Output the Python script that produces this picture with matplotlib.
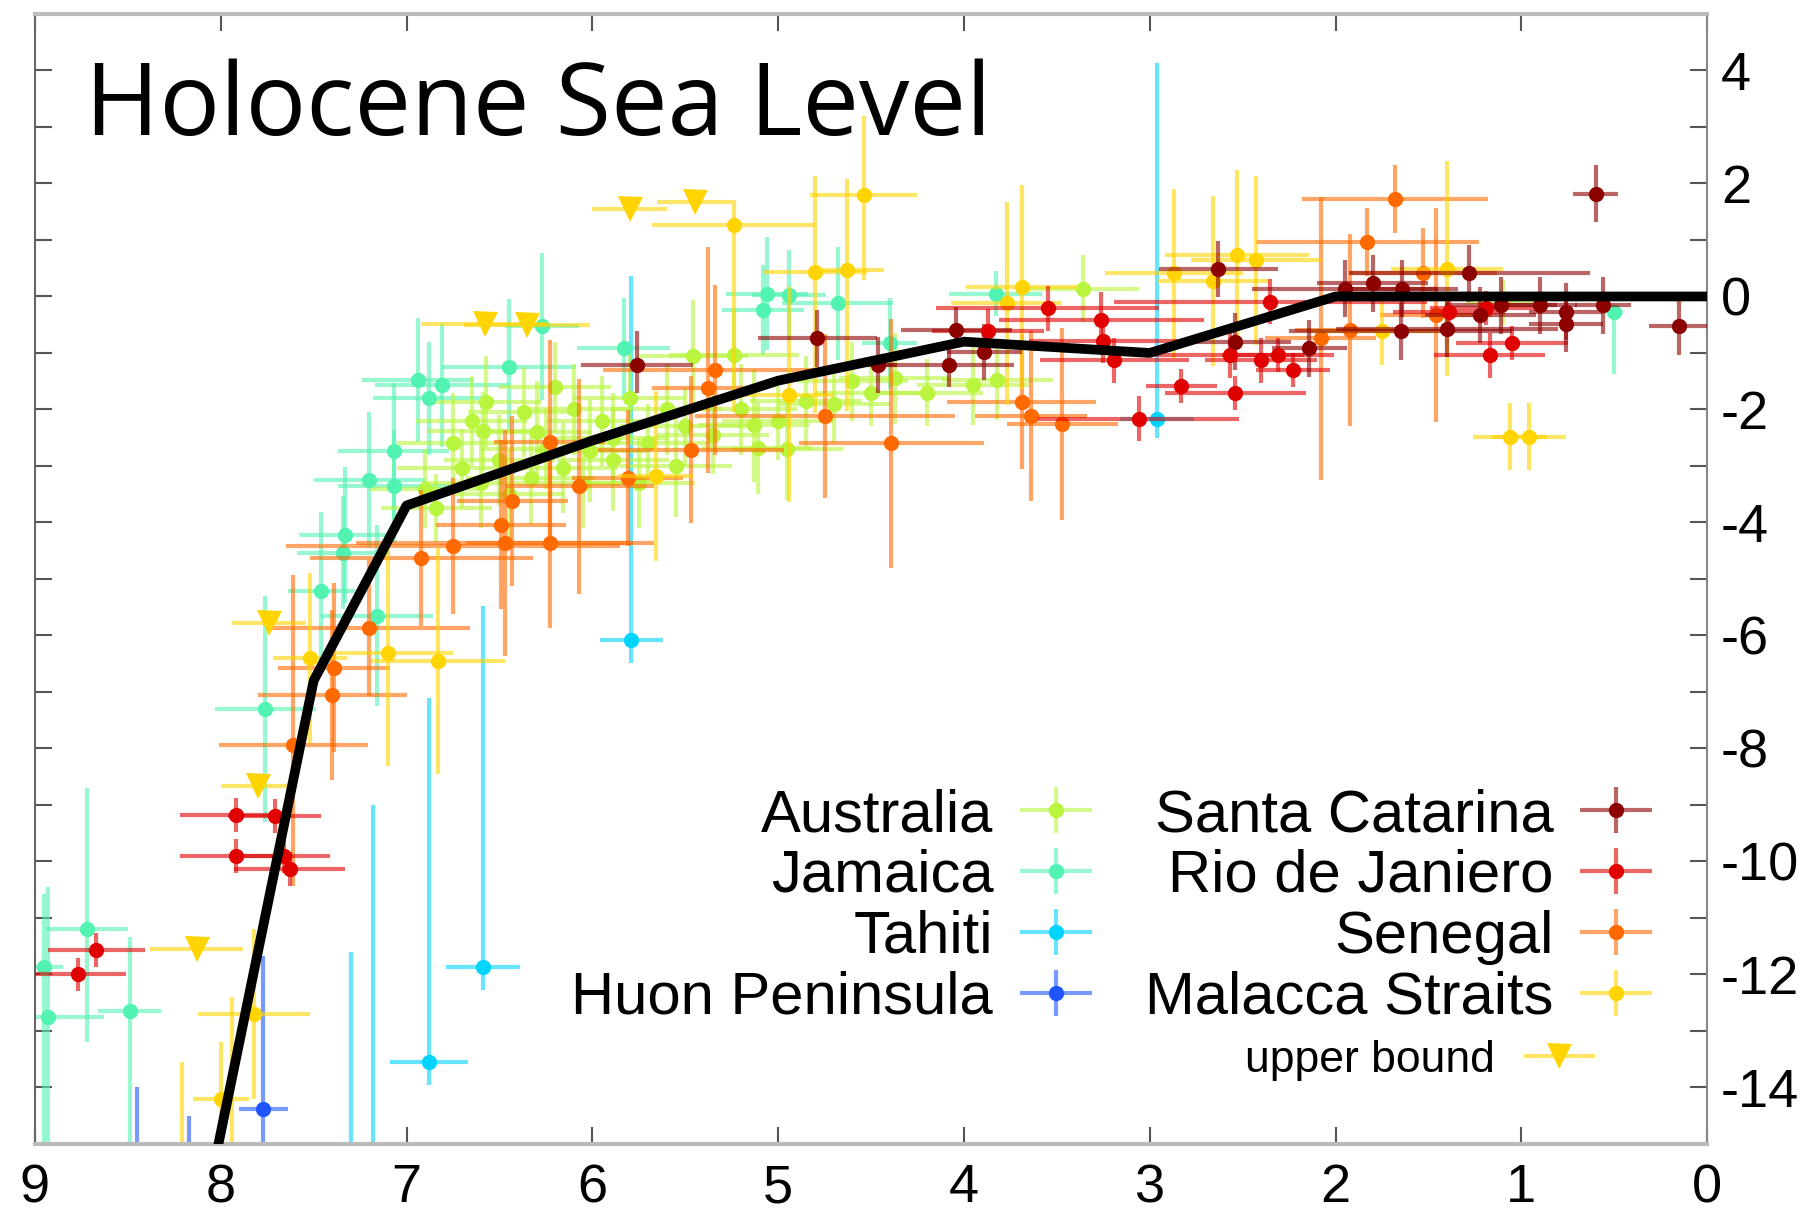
import numpy as np
import matplotlib
matplotlib.use('Agg')
from matplotlib import pyplot as plt
from matplotlib.colors import to_rgba
from matplotlib.container import ErrorbarContainer
from matplotlib.legend_handler import HandlerErrorbar
from matplotlib.ticker import MultipleLocator

plt.rcParams['font.family'] = ['Liberation Sans', 'DejaVu Sans']
plt.rcParams['axes.unicode_minus'] = False

##### sea-level indicators: (age ka, level m, age err, err below, err above)

australia = [
    (6.57, -1.86, 0.30, 0.8, 0.8), (6.37, -2.04, 0.30, 0.8, 0.8), (6.59, -2.39, 0.30, 0.7, 0.7),
    (6.70, -3.04, 0.35, 0.7, 0.7), (6.16, -3.04, 0.30, 0.8, 0.8), (6.01, -2.74, 0.30, 0.9, 0.9),
    (6.84, -3.75, 0.30, 0.6, 0.6), (6.33, -3.22, 0.35, 0.8, 0.8), (5.89, -2.51, 0.30, 0.8, 0.8),
    (5.89, -2.89, 0.30, 0.9, 0.9), (5.46, -1.06, 0.30, 1.0, 1.0), (5.24, -1.04, 0.35, 0.8, 0.8),
    (5.11, -2.69, 0.30, 0.8, 0.8), (5.13, -2.28, 0.30, 1.0, 1.0), (4.37, -1.45, 0.30, 0.8, 0.8),
    (3.95, -1.57, 0.30, 0.7, 0.7), (3.82, -1.48, 0.30, 0.7, 0.7), (3.36, 0.14, 0.30, 0.6, 0.6),
    (6.75, -2.60, 0.30, 0.9, 0.9), (6.50, -2.90, 0.30, 0.8, 0.8), (6.25, -2.70, 0.35, 0.7, 0.7),
    (6.05, -3.30, 0.30, 0.8, 0.8), (5.95, -2.20, 0.30, 0.8, 0.8), (5.70, -2.60, 0.35, 0.7, 0.7),
    (5.60, -2.00, 0.30, 0.8, 0.8), (5.35, -2.45, 0.30, 0.7, 0.7), (5.00, -2.20, 0.30, 0.7, 0.7),
    (4.85, -1.85, 0.30, 0.8, 0.8), (4.60, -1.50, 0.30, 0.7, 0.7), (4.50, -1.70, 0.30, 0.6, 0.6),
    (6.90, -3.40, 0.30, 0.7, 0.7), (6.45, -3.50, 0.30, 0.8, 0.8), (5.80, -1.80, 0.30, 0.8, 0.8),
    (5.55, -3.00, 0.30, 0.9, 0.9), (4.20, -1.70, 0.30, 0.6, 0.6), (1.10, -0.10, 0.20, 0.4, 0.4),
    (6.65, -2.20, 0.30, 0.8, 0.8), (6.30, -2.40, 0.30, 0.9, 0.9), (6.10, -2.00, 0.30, 0.8, 0.8),
    (5.75, -3.30, 0.30, 0.8, 0.8), (5.50, -2.30, 0.35, 0.7, 0.7), (5.20, -2.00, 0.30, 0.8, 0.8),
    (6.20, -1.60, 0.30, 0.8, 0.8), (4.95, -2.70, 0.30, 0.9, 0.9), (4.70, -1.90, 0.30, 0.7, 0.7),
    (6.60, -3.30, 0.30, 0.8, 0.8),
]

jamaica = [
    (6.27, -0.53, 0.20, 1.3, 1.3), (6.45, -1.24, 0.36, 1.2, 1.2), (6.94, -1.48, 0.30, 1.1, 1.1),
    (6.81, -1.57, 0.36, 1.1, 1.1), (6.88, -1.80, 0.30, 1.0, 1.0), (7.07, -2.74, 0.30, 1.2, 1.2),
    (7.20, -3.25, 0.30, 1.2, 1.2), (7.07, -3.36, 0.30, 1.0, 1.0), (7.33, -4.22, 0.25, 1.2, 1.2),
    (7.34, -4.54, 0.25, 1.0, 1.0), (7.46, -5.21, 0.18, 1.4, 1.4), (7.16, -5.65, 0.30, 1.6, 1.6),
    (7.76, -7.31, 0.27, 2.0, 2.0), (5.83, -0.92, 0.25, 0.9, 0.9), (5.06, 0.05, 0.22, 1.0, 1.0),
    (4.94, 0.03, 0.20, 0.8, 0.8), (5.08, -0.24, 0.22, 0.8, 0.8), (4.68, -0.12, 0.30, 1.0, 1.0),
    (4.40, -0.83, 0.15, 0.8, 0.8), (3.83, 0.05, 0.25, 0.4, 0.4), (0.50, -0.27, 0.05, 1.1, 0.1),
    (8.72, -11.20, 0.22, 2.0, 2.5), (8.95, -11.87, 0.10, 3.2, 1.3), (8.49, -12.64, 0.17, 2.4, 1.3),
    (8.93, -12.76, 0.30, 2.3, 2.3),
]

tahiti = [
    (5.79, -6.08, 0.17, 0.4, 6.45), (2.96, -2.16, 0.20, 0.35, 6.3), (6.59, -11.87, 0.20, 0.4, 6.4),
    (6.88, -13.55, 0.21, 0.4, 6.45), (7.30, -17.90, 0.20, 0.4, 6.3), (7.18, -15.40, 0.20, 0.4, 6.4),
]

huon = [
    (7.77, -14.38, 0.13, 0.6, 2.7), (8.45, -16.50, 0.10, 0.4, 2.5), (8.17, -16.50, 0.10, 0.4, 2.0),
]

santa_catarina = [
    (5.76, -1.21, 0.30, 0.5, 0.6), (4.79, -0.74, 0.32, 0.5, 0.5), (4.46, -1.21, 0.10, 0.5, 0.5),
    (4.08, -1.21, 0.35, 0.4, 0.4), (3.89, -0.98, 0.20, 0.5, 0.5), (4.04, -0.59, 0.30, 0.3, 0.4),
    (2.63, 0.49, 0.32, 0.5, 0.5), (2.54, -0.80, 0.30, 0.5, 0.5), (2.14, -0.92, 0.20, 0.5, 0.5),
    (1.95, 0.14, 0.50, 0.5, 0.5), (1.80, 0.23, 0.30, 0.5, 0.5), (1.64, 0.14, 0.30, 0.5, 0.5),
    (1.65, -0.62, 0.60, 0.5, 0.5), (1.40, -0.57, 0.60, 0.5, 0.5), (1.28, 0.41, 0.65, 0.5, 0.5),
    (1.22, -0.33, 0.30, 0.5, 0.5), (1.11, -0.16, 0.30, 0.5, 0.5), (0.90, -0.16, 0.20, 0.5, 0.5),
    (0.76, -0.27, 0.20, 0.5, 0.5), (0.76, -0.48, 0.20, 0.5, 0.5), (0.56, -0.16, 0.15, 0.5, 0.5),
    (0.60, 1.82, 0.12, 0.5, 0.5), (0.15, -0.53, 0.16, 0.5, 0.5),
]

rio = [
    (3.87, -0.62, 0.30, 0.4, 0.4), (3.55, -0.21, 0.60, 0.4, 0.4), (3.26, -0.42, 0.55, 0.5, 0.5),
    (3.25, -0.78, 0.40, 0.4, 0.4), (3.19, -1.13, 0.40, 0.4, 0.4), (3.06, -2.16, 0.54, 0.4, 0.4),
    (2.83, -1.59, 0.19, 0.3, 0.3), (2.54, -1.71, 0.38, 0.3, 0.3), (2.35, -0.09, 0.84, 0.4, 0.4),
    (2.57, -1.04, 0.40, 0.4, 0.4), (2.40, -1.13, 0.30, 0.4, 0.4), (2.31, -1.04, 0.30, 0.3, 0.3),
    (2.23, -1.30, 0.20, 0.3, 0.3), (1.17, -1.04, 0.30, 0.4, 0.4), (1.05, -0.83, 0.30, 0.3, 0.3),
    (1.39, -0.27, 0.30, 0.3, 0.3), (1.19, -0.21, 0.30, 0.3, 0.3), (7.92, -9.17, 0.30, 0.3, 0.3),
    (7.71, -9.19, 0.25, 0.3, 0.3), (7.92, -9.90, 0.30, 0.3, 0.3), (7.66, -9.90, 0.25, 0.3, 0.3),
    (7.63, -10.14, 0.30, 0.3, 0.3), (8.67, -11.57, 0.26, 0.3, 0.3), (8.77, -12.00, 0.26, 0.3, 0.3),
]

senegal = [
    (5.34, -1.30, 0.60, 1.5, 1.5), (5.38, -1.62, 0.30, 1.5, 2.5), (5.47, -2.71, 0.50, 1.3, 1.3),
    (5.81, -3.21, 0.30, 1.2, 1.2), (4.75, -2.12, 0.70, 1.45, 1.45), (4.39, -2.60, 0.50, 2.2, 2.2),
    (3.69, -1.86, 0.40, 1.2, 1.2), (3.64, -2.12, 0.30, 1.5, 1.5), (3.47, -2.25, 0.30, 1.7, 1.7),
    (6.23, -2.57, 0.30, 1.8, 1.8), (6.43, -3.62, 0.30, 1.5, 1.5), (6.49, -4.04, 0.35, 1.5, 1.5),
    (6.47, -4.36, 0.80, 2.0, 2.0), (6.23, -4.36, 0.45, 1.5, 1.5), (6.75, -4.42, 0.90, 1.2, 1.2),
    (6.92, -4.63, 0.60, 1.2, 1.2), (6.07, -3.36, 0.40, 1.9, 1.9), (7.20, -5.87, 0.54, 1.2, 1.2),
    (7.39, -6.57, 0.30, 1.5, 1.5), (7.40, -7.05, 0.40, 1.5, 1.5), (7.61, -7.93, 0.40, 2.5, 3.0),
    (1.68, 1.73, 0.50, 0.6, 0.6), (1.83, 0.97, 0.60, 0.6, 0.6), (1.53, 0.41, 0.40, 0.8, 0.8),
    (1.46, -0.33, 0.30, 1.9, 1.9), (1.92, -0.60, 0.30, 1.7, 1.7), (2.08, -0.74, 0.30, 2.5, 2.5),
]

malacca = [
    (5.24, 1.26, 0.44, 3.3, 0.45), (4.54, 1.79, 0.29, 1.5, 1.4), (4.80, 0.44, 0.28, 2.5, 1.7),
    (4.63, 0.47, 0.20, 2.5, 1.6), (4.94, -1.74, 0.24, 1.9, 1.9), (5.66, -3.18, 0.20, 1.5, 1.5),
    (3.69, 0.17, 0.30, 1.8, 1.8), (3.77, -0.12, 0.30, 1.8, 1.8), (2.87, 0.41, 0.37, 1.5, 1.5),
    (2.53, 0.73, 0.39, 1.5, 1.5), (2.43, 0.64, 0.35, 1.5, 1.5), (2.66, 0.27, 0.30, 1.5, 1.5),
    (1.40, 0.49, 0.30, 1.9, 1.9), (1.06, -2.48, 0.20, 0.6, 0.6), (0.96, -2.48, 0.20, 0.6, 0.6),
    (1.75, -0.62, 0.40, 0.6, 0.6), (7.10, -6.31, 0.35, 2.0, 2.0), (6.83, -6.45, 0.36, 2.0, 2.0),
    (7.52, -6.40, 0.20, 1.5, 1.5), (7.82, -12.70, 0.30, 1.5, 1.5), (8.00, -14.20, 0.15, 1.0, 1.0),
    (8.21, -16.00, 0.10, 0.4, 2.45), (7.94, -16.00, 0.10, 0.4, 3.6),
]

# upper bounds only carry an age error: (age ka, level m, age err)
upper_bound = [
    (5.80, 1.55, 0.20), (5.45, 1.67, 0.20), (6.58, -0.48, 0.34), (6.35, -0.51, 0.34),
    (7.74, -5.78, 0.20), (7.80, -8.67, 0.20), (8.13, -11.55, 0.25),
]

curve_age = [8.1, 7.5, 7.0, 6.0, 5.0, 4.0, 3.0, 2.0, 0.0]
curve_level = [-16.4, -6.8, -3.7, -2.55, -1.49, -0.8, -1.0, 0.0, 0.0]

colors = {
    'Australia': '#b8f53c', 'Jamaica': '#52f2b2', 'Tahiti': '#00d4ff',
    'Huon Peninsula': '#1f55ff', 'Santa Catarina': '#8c0000',
    'Rio de Janiero': '#e00000', 'Senegal': '#ff6a00', 'Malacca Straits': '#ffd400',
}

#####

fig = plt.figure(figsize=(18.12, 12.13), dpi=100)
ax = fig.add_axes([0.0193, 0.0569, 0.9228, 0.9316])


def draw(rows, name, zo, marker='o', ms=11, label=True):
    a = np.array(rows)
    yerr = [a[:, 3], a[:, 4]] if a.shape[1] > 3 else None
    c = colors[name]
    return ax.errorbar(a[:, 0], a[:, 1], xerr=a[:, 2], yerr=yerr, fmt=marker, ms=ms,
                       color=c, mew=0, ecolor=to_rgba(c, 0.6), elinewidth=3.0,
                       capsize=0, zorder=zo, label=name if label else None)


h = {}
h['Tahiti'] = draw(tahiti, 'Tahiti', 2)
h['Huon Peninsula'] = draw(huon, 'Huon Peninsula', 2.1)
h['Jamaica'] = draw(jamaica, 'Jamaica', 2.2)
h['Australia'] = draw(australia, 'Australia', 2.3)
h['Senegal'] = draw(senegal, 'Senegal', 2.4)
h['Malacca Straits'] = draw(malacca, 'Malacca Straits', 2.5)
ub = draw(upper_bound, 'Malacca Straits', 2.6, marker='v', ms=18, label=False)
h['Rio de Janiero'] = draw(rio, 'Rio de Janiero', 2.7)
h['Santa Catarina'] = draw(santa_catarina, 'Santa Catarina', 2.8)

ax.plot(curve_age, curve_level, color='black', lw=7, solid_joinstyle='round', zorder=5)

ax.set_xlim(9, 0)
ax.set_ylim(-15, 5)
ax.xaxis.set_major_locator(MultipleLocator(1))
ax.yaxis.set_major_locator(MultipleLocator(2))
ax.yaxis.set_minor_locator(MultipleLocator(1))
ax.tick_params(which='both', direction='in', length=12, width=1.5, color='#555555',
               top=True, bottom=True, left=True, right=True,
               labelleft=False, labelright=True, labelsize=39)
ax.tick_params(axis='x', pad=14)
ax.tick_params(axis='y', pad=10)

for side in ['top', 'bottom']:
    ax.spines[side].set_color('#bbbbbb')
    ax.spines[side].set_linewidth(3)
ax.spines['left'].set_color('#666666')
ax.spines['left'].set_linewidth(1.5)
ax.spines['right'].set_color('#888888')
ax.spines['right'].set_linewidth(1.5)

ax.text(0.03, 0.893, 'Holocene Sea Level', fontsize=72.5, family='Open Sans',
        transform=ax.transAxes, va='baseline', ha='left')

fs = 43
hmap = {ErrorbarContainer: HandlerErrorbar(xerr_size=0.6, yerr_size=0.38)}
left_names = ['Australia', 'Jamaica', 'Tahiti', 'Huon Peninsula']
right_names = ['Santa Catarina', 'Rio de Janiero', 'Senegal', 'Malacca Straits']

leg1 = ax.legend([h[n] for n in left_names], left_names, loc='upper right',
                 bbox_to_anchor=(0.632, 0.315), frameon=False, fontsize=fs,
                 markerfirst=False, handlelength=1.2, handletextpad=0.45,
                 labelspacing=0.1, borderpad=0, borderaxespad=0, handler_map=hmap)
ax.add_artist(leg1)
leg2 = ax.legend([h[n] for n in right_names], right_names, loc='upper right',
                 bbox_to_anchor=(0.967, 0.315), frameon=False, fontsize=fs,
                 markerfirst=False, handlelength=1.2, handletextpad=0.45,
                 labelspacing=0.1, borderpad=0, borderaxespad=0, handler_map=hmap)
ax.add_artist(leg2)
ax.legend([ub], ['upper bound'], loc='center right', bbox_to_anchor=(0.933, 0.074),
          frameon=False, fontsize=32, markerfirst=False, handlelength=1.6,
          handletextpad=0.65, borderpad=0, borderaxespad=0,
          handler_map={ErrorbarContainer: HandlerErrorbar(xerr_size=0.8)})

fig.savefig('out.png', dpi=100)
